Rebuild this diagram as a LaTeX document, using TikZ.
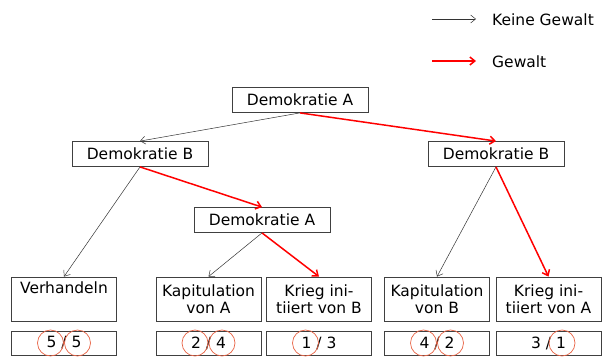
\documentclass[tikz,border=0pt]{standalone}
\usepackage{fontspec}
\setmainfont{DejaVu Sans}
\usetikzlibrary{arrows.meta}
\definecolor{ringcol}{RGB}{232,100,70}

\begin{document}
\begin{tikzpicture}[x=1pt,y=-1pt,>={Straight Barb[length=5pt,width=8pt]},
			every node/.style={align=center,inner sep=0pt,font=\fontsize{15.5}{17}\selectfont},
			demo/.style={draw=black!75,line width=0.8pt,minimum width=136pt,minimum height=25pt},
			outcome/.style={draw=black!75,line width=0.8pt,minimum width=105pt,minimum height=44pt},
			payoff/.style={draw=black!75,line width=0.8pt,minimum width=105pt,minimum height=24pt},
			ring/.style={draw=ringcol,circle,minimum size=26pt,line width=0.7pt},
			nogo/.style={->,black!80,line width=0.5pt},
			go/.style={->,red,line width=1.5pt}]
			\useasboundingbox (0,0) rectangle (602,356);
			\coordinate(keinstart) at (432,19);
			\coordinate(keinend) at (476,19);
			\coordinate(gewstart) at (432,61);
			\coordinate(gewend) at (476,61);
			\draw[nogo] (keinstart) -- (keinend);
			\draw[go] (gewstart) -- (gewend);
			\node[anchor=west](keinlabel) at (492,20) {Keine Gewalt};
			\node[anchor=west](gewlabel) at (492,62) {Gewalt};
			\node[demo](demA) at (300,100) {Demokratie A};
			\node[demo](demBl) at (140,154) {Demokratie B};
			\node[demo](demBr) at (496,154) {Demokratie B};
			\node[demo](demAm) at (262,220) {Demokratie A};
			\node[outcome](verh) at (64,299) {Verhandeln\\\strut};
			\node[outcome](kapA) at (208.5,299) {Kapitulation\\von A};
			\node[outcome](kriegB) at (319,299) {Krieg ini-\\tiiert von B};
			\node[outcome](kapB) at (437,299) {Kapitulation\\von B};
			\node[outcome](kriegA) at (548.5,299) {Krieg ini-\\tiiert von A};
			\node[payoff](pverh) at (64,343) {5 / 5};
			\node[payoff](pkapA) at (208.5,343) {2 / 4};
			\node[payoff](pkriegB) at (319,343) {1 / 3};
			\node[payoff](pkapB) at (437,343) {4 / 2};
			\node[payoff](pkriegA) at (548.5,343) {3 / 1};
			\node[ring](rverhl) at ([xshift=-13.5pt]pverh.center) {};
			\node[ring](rverhr) at ([xshift=13.5pt]pverh.center) {};
			\node[ring](rkapAl) at ([xshift=-13.5pt]pkapA.center) {};
			\node[ring](rkapAr) at ([xshift=13.5pt]pkapA.center) {};
			\node[ring](rkriegBl) at ([xshift=-13.5pt]pkriegB.center) {};
			\node[ring](rkapBl) at ([xshift=-13.5pt]pkapB.center) {};
			\node[ring](rkapBr) at ([xshift=13.5pt]pkapB.center) {};
			\node[ring](rkriegAr) at ([xshift=13.5pt]pkriegA.center) {};
			\draw[nogo] (demA.south) -- (demBl.north);
			\draw[go] (demA.south) -- (demBr.north);
			\draw[nogo] (demBl.south) -- (verh.north);
			\draw[go] (demBl.south) -- (demAm.north);
			\draw[nogo] (demAm.south) -- (kapA.north);
			\draw[go] (demAm.south) -- (kriegB.north);
			\draw[nogo] (demBr.south) -- (kapB.north);
			\draw[go] (demBr.south) -- (kriegA.north);
		\end{tikzpicture}
\end{document}
